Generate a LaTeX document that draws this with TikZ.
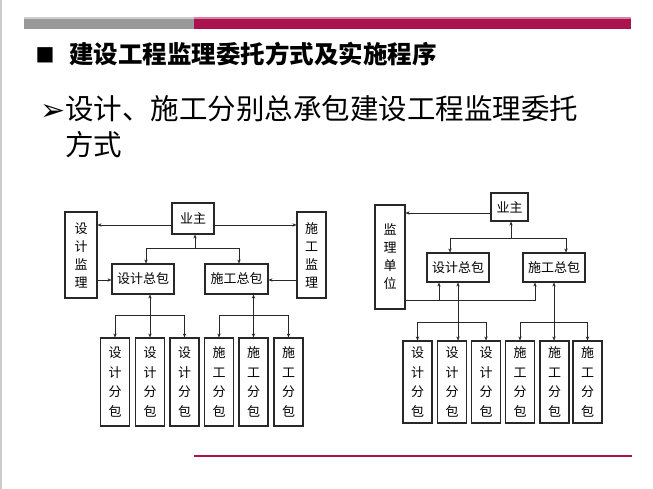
\documentclass[tikz,border=0pt]{standalone}
\usepackage{fontspec}
\newfontfamily\cjk{Noto Sans CJK SC}
\newfontfamily\dejavu{DejaVu Sans}
\usetikzlibrary{arrows.meta,calc}
\definecolor{mag}{RGB}{170,18,80}
\definecolor{magl}{RGB}{214,130,165}
\definecolor{bargray}{RGB}{153,153,153}
\definecolor{barl}{RGB}{205,205,205}
\definecolor{ink}{RGB}{40,40,40}
\begin{document}
\begin{tikzpicture}[x=1pt,y=-1pt,
  box/.style={draw=ink,line width=1.1pt,fill=white,inner sep=0pt,align=center,
    font=\cjk\fontsize{13}{18}\selectfont},
  sub/.style={box,minimum width=29pt,font=\cjk\fontsize{13}{19.5}\selectfont},
  arr/.style={draw=ink,line width=0.9pt,-{Stealth[length=4pt,width=3.4pt]}},
  ln/.style={draw=ink,line width=0.9pt}]
\useasboundingbox (0,0) rectangle (653,489);
\fill[white] (0,0) rectangle (653,489);
% slide frame and bars
\draw[barl,line width=1.5pt] (1,0) -- (1,489);
\fill[barl] (24,17.5) rectangle (194,19);
\fill[magl] (194,17.5) rectangle (631,19);
\fill[bargray] (24,19) rectangle (194,29);
\fill[mag] (194,19) rectangle (631,29);
\draw[mag,line width=1.6pt] (194,456) -- (632,456);
% titles
\node[font=\dejavu\fontsize{20}{20}\selectfont,inner sep=0pt,anchor=base] (bul) at (45,61) {■};
\node[font=\cjk\bfseries\fontsize{24.5}{26}\selectfont,anchor=base west,inner sep=0pt] (title) at (69,64) {建设工程监理委托方式及实施程序};
\node[font=\dejavu\fontsize{30}{30}\selectfont,inner sep=0pt,anchor=base] (arw) at (53,121) {➢};
\node[font=\cjk\fontsize{28.5}{36}\selectfont,anchor=base west,inner sep=0pt] (sub1) at (65,120) {设计、施工分别总承包建设工程监理委托};
\node[font=\cjk\fontsize{28.5}{36}\selectfont,anchor=base west,inner sep=0pt] (sub2) at (65,156) {方式};
% ---------------- left diagram ----------------
\node[box,minimum width=42pt,minimum height=31pt] (yz1) at (193,218.5) {业主};
\node[box,minimum width=32pt,minimum height=86pt] (sjjl) at (81,255) {设\\计\\监\\理};
\node[box,minimum width=29pt,minimum height=86pt] (sgjl) at (311.5,255) {施\\工\\监\\理};
\node[box,minimum width=62pt,minimum height=30pt] (sjzb1) at (143,279) {设计总包};
\node[box,minimum width=63pt,minimum height=30pt] (sgzb1) at (236.5,279) {施工总包};
\node[sub,minimum height=88pt] (s11) at (115,382) {设\\计\\分\\包};
\node[sub,minimum height=88pt] (s12) at (150,382) {设\\计\\分\\包};
\node[sub,minimum height=88pt] (s13) at (184.5,382) {设\\计\\分\\包};
\node[sub,minimum height=88pt] (s14) at (219,382) {施\\工\\分\\包};
\node[sub,minimum height=88pt] (s15) at (253.5,382) {施\\工\\分\\包};
\node[sub,minimum height=88pt] (s16) at (288.5,382) {施\\工\\分\\包};
\coordinate (a1) at ([yshift=-6.5pt]yz1.west);
\draw[arr] (a1) -- (a1 -| sjjl.east);
\coordinate (a2) at ([yshift=-6.5pt]yz1.east);
\draw[arr] (a2) -- (a2 -| sgjl.west);
\coordinate (j1) at (195,248);
\draw[arr] (j1) -- (j1 |- yz1.south);
\draw[arr] (j1) -| ([xshift=3pt]sjzb1.north);
\draw[arr] (j1) -| ([xshift=2.5pt]sgzb1.north);
\coordinate (b1) at (sjjl.east |- 0,280);
\draw[arr] (b1) -- (b1 -| sjzb1.west);
\coordinate (b2) at (sgjl.west |- 0,280);
\draw[arr] (b2) -- (b2 -| sgzb1.east);
\coordinate (j2) at (s12.north |- 0,315);
\draw[arr] (j2) -- (j2 |- sjzb1.south);
\draw[arr] (j2) -- (s12.north);
\draw[arr] (j2) -| (s11.north);
\draw[arr] (j2) -| (s13.north);
\coordinate (j3) at (s15.north |- 0,315);
\draw[arr] (j3) -- (j3 |- sgzb1.south);
\draw[arr] (j3) -- (s15.north);
\draw[arr] (j3) -| (s14.north);
\draw[arr] (j3) -| (s16.north);
% ---------------- right diagram ----------------
\node[box,minimum width=37pt,minimum height=28pt] (yz2) at (509.5,207) {业主};
\node[box,minimum width=30pt,minimum height=104pt] (jldw) at (390,257) {监\\理\\单\\位};
\node[box,minimum width=62pt,minimum height=29pt] (sjzb2) at (458,267.5) {设计总包};
\node[box,minimum width=62pt,minimum height=29pt] (sgzb2) at (554,267.5) {施工总包};
\node[sub,minimum height=82pt] (s21) at (417.5,382) {设\\计\\分\\包};
\node[sub,minimum height=82pt] (s22) at (452,382) {设\\计\\分\\包};
\node[sub,minimum height=82pt] (s23) at (486,382) {设\\计\\分\\包};
\node[sub,minimum height=82pt] (s24) at (520,382) {施\\工\\分\\包};
\node[sub,minimum height=82pt] (s25) at (554.5,382) {施\\工\\分\\包};
\node[sub,minimum height=82pt] (s26) at (587.5,382) {施\\工\\分\\包};
\coordinate (c1) at ([yshift=-6pt]yz2.west);
\draw[arr] (c1) -- (c1 -| jldw.east);
\coordinate (j4) at (511,238);
\draw[arr] (j4) -- (j4 |- yz2.south);
\draw[arr] (j4) -| ([xshift=-8pt]sjzb2.north);
\draw[arr] (j4) -| ([xshift=12pt]sgzb2.north);
\coordinate (d1) at (jldw.east |- 0,300);
\draw[arr] (d1) -| ([xshift=-19pt]sgzb2.south);
\draw[arr] ([xshift=-19pt]sjzb2.south |- d1) -- ([xshift=-19pt]sjzb2.south);
\coordinate (j5) at (sjzb2.south |- 0,322);
\draw[arr] (j5) -- (sjzb2.south);
\draw[arr] (j5) -- (j5 |- s22.north);
\draw[arr] (j5) -| (s21.north);
\draw[arr] (j5) -| (s23.north);
\coordinate (j6) at (sgzb2.south |- 0,322);
\draw[arr] (j6) -- (sgzb2.south);
\draw[arr] (j6) -- (j6 |- s25.north);
\draw[arr] (j6) -| (s24.north);
\draw[arr] (j6) -| (s26.north);
\end{tikzpicture}
\end{document}
